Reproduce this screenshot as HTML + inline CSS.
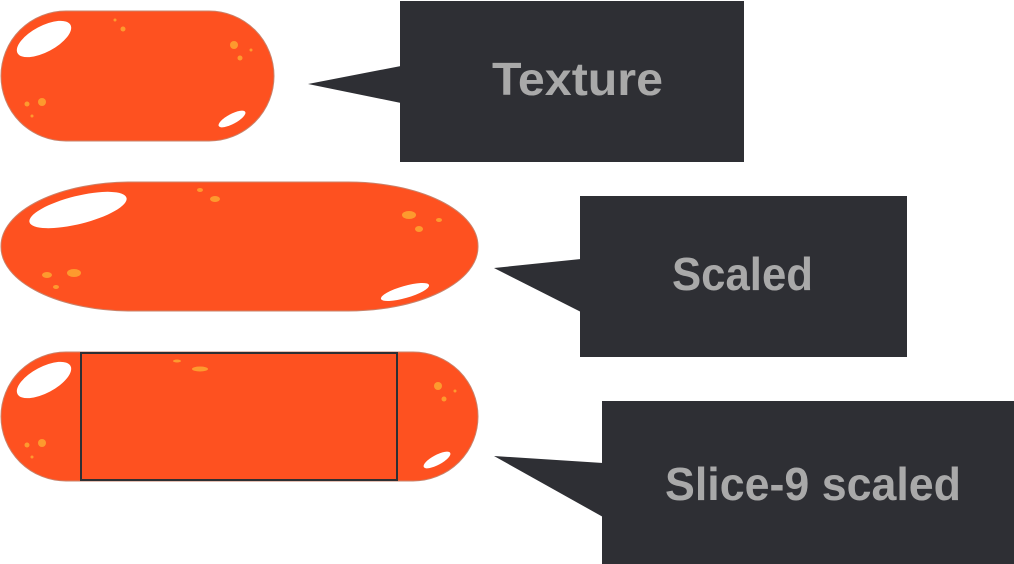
<!DOCTYPE html>
<html><head><meta charset="utf-8"><style>
html,body{margin:0;padding:0;background:#fff;width:1014px;height:564px;overflow:hidden}
</style></head><body>
<svg width="1014" height="564" viewBox="0 0 1014 564" xmlns="http://www.w3.org/2000/svg">
<!-- Pill 1 -->
<g>
<rect x="1" y="11" width="273" height="130" rx="65" ry="65" fill="#fe5120" stroke="#c9826a" stroke-width="1"/>
<ellipse cx="44" cy="39" rx="30" ry="13" transform="rotate(-28 44 39)" fill="#fff"/>
<ellipse cx="232" cy="119" rx="15" ry="5" transform="rotate(-28 232 119)" fill="#fff"/>
<circle cx="234" cy="45" r="4" fill="#fd9a2e"/><circle cx="240" cy="58" r="2.5" fill="#fd9a2e"/><circle cx="251" cy="50" r="1.5" fill="#fd9a2e"/>
<circle cx="42" cy="102" r="4" fill="#fd9a2e"/><circle cx="27" cy="104" r="2.5" fill="#fd9a2e"/><circle cx="32" cy="116" r="1.5" fill="#fd9a2e"/>
<circle cx="123" cy="29" r="2.5" fill="#fd9a2e"/><circle cx="115" cy="20" r="1.5" fill="#fd9a2e"/>
</g>
<!-- Pill 2 -->
<g>
<rect x="1" y="182" width="477" height="129" rx="130" ry="64" fill="#fe5120" stroke="#c9826a" stroke-width="1"/>
<ellipse cx="78" cy="210" rx="50" ry="14" transform="rotate(-14 78 210)" fill="#fff"/>
<ellipse cx="405" cy="292" rx="25" ry="6" transform="rotate(-16 405 292)" fill="#fff"/>
<ellipse cx="409" cy="215" rx="7" ry="4" fill="#fd9a2e"/><ellipse cx="419" cy="229" rx="4" ry="3" fill="#fd9a2e"/><ellipse cx="439" cy="220" rx="3" ry="2" fill="#fd9a2e"/>
<ellipse cx="74" cy="273" rx="7" ry="4" fill="#fd9a2e"/><ellipse cx="47" cy="275" rx="5" ry="3" fill="#fd9a2e"/><ellipse cx="56" cy="287" rx="3" ry="2" fill="#fd9a2e"/>
<ellipse cx="215" cy="199" rx="5" ry="3" fill="#fd9a2e"/><ellipse cx="200" cy="190" rx="3" ry="2" fill="#fd9a2e"/>
</g>
<!-- Pill 3 -->
<g>
<rect x="1" y="352" width="477" height="129" rx="65" ry="65" fill="#fe5120" stroke="#c9826a" stroke-width="1"/>
<ellipse cx="44" cy="380" rx="30" ry="13" transform="rotate(-28 44 380)" fill="#fff"/>
<ellipse cx="437" cy="460" rx="15" ry="5" transform="rotate(-28 437 460)" fill="#fff"/>
<circle cx="438" cy="386" r="4" fill="#fd9a2e"/><circle cx="444" cy="399" r="2.5" fill="#fd9a2e"/><circle cx="455" cy="391" r="1.5" fill="#fd9a2e"/>
<circle cx="42" cy="443" r="4" fill="#fd9a2e"/><circle cx="27" cy="445" r="2.5" fill="#fd9a2e"/><circle cx="32" cy="457" r="1.5" fill="#fd9a2e"/>
<ellipse cx="200" cy="369" rx="8" ry="2.5" fill="#fd9a2e"/><ellipse cx="177" cy="361" rx="4" ry="1.5" fill="#fd9a2e"/>
<rect x="81" y="353" width="316" height="127" fill="none" stroke="#2e2f33" stroke-width="2"/>
</g>
<!-- Callouts -->
<g fill="#2e2f34">
<rect x="400" y="1" width="344" height="161"/>
<polygon points="308,84 401,66 401,103"/>
<rect x="580" y="196" width="327" height="161"/>
<polygon points="494,268 581,259 581,312"/>
<rect x="602" y="401" width="412" height="163"/>
<polygon points="494,456 603,463 603,517"/>
</g>
<g fill="#a9a9a9" font-family="'Liberation Sans',sans-serif" font-weight="bold" font-size="46">
<text x="492" y="95" textLength="171" lengthAdjust="spacingAndGlyphs">Texture</text>
<text x="672" y="290" textLength="141" lengthAdjust="spacingAndGlyphs">Scaled</text>
<text x="665" y="500" textLength="296" lengthAdjust="spacingAndGlyphs">Slice-9 scaled</text>
</g>
</svg>
</body></html>
